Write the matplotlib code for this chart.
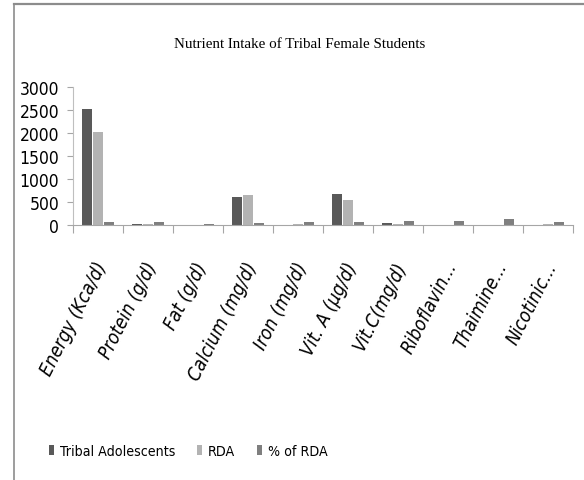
import matplotlib
matplotlib.use("Agg")
import matplotlib.pyplot as plt
import numpy as np
from matplotlib.lines import Line2D

nutrients = ["Energy (Kca/d)", "Protein (g/d)", "Fat (g/d)", "Calcium (mg/d)",
             "Iron (mg/d)", "Vit. A (µg/d)", "Vit.C(mg/d)", "Riboflavin...",
             "Thaimine...", "Nicotinic..."]
tribal = [2527, 12, 8, 600, 9, 685, 35, 0.8, 0.9, 9]
rda = [2035, 14, 10, 650, 12, 540, 20, 1.2, 1.0, 12]
pct_rda = [60, 60, 12, 35, 62, 62, 92, 92, 122, 62]

series_names = ["Tribal Adolescents", "RDA", "% of RDA"]
colors = ["#595959", "#b3b3b3", "#7f7f7f"]

plt.rcParams["font.family"] = ["DejaVu Sans"]
plt.rcParams["font.stretch"] = "condensed"

fig = plt.figure(figsize=(5.84, 4.81), dpi=100)
ax = fig.add_axes([73 / 584, 1 - 226 / 481, 500 / 584, 137.7 / 481])

x = np.arange(len(nutrients))
w = 0.2
bars = []
for k, (vals, c) in enumerate(zip([tribal, rda, pct_rda], colors)):
    bars.append(ax.bar(x + (k - 1) * 0.22, vals, w, color=c, label=series_names[k]))

ax.set_xlim(-0.5, len(nutrients) - 0.5)
ax.set_ylim(0, 3000)
ax.set_yticks(range(0, 3001, 500))
ax.tick_params(axis="y", labelsize=12.5, length=4, width=0.8, color="#a6a6a6", pad=6)

ax.set_xticks(x - 0.08)
ax.set_xticklabels(nutrients, rotation=63, ha="right", va="top",
                   rotation_mode="anchor", fontsize=13.5, style="italic")
ax.tick_params(axis="x", which="major", length=0, pad=24)
ax.set_xticks(np.arange(-0.5, len(nutrients)), minor=True)
ax.tick_params(axis="x", which="minor", length=6, width=0.8, color="#a6a6a6")

for s in ["top", "right"]:
    ax.spines[s].set_visible(False)
ax.spines["left"].set_color("#bfbfbf")
ax.spines["bottom"].set_color("#a6a6a6")

fig.text(300 / 584, 1 - 44 / 481, "Nutrient Intake of Tribal Female Students",
         ha="center", va="center", fontsize=10.8, family="Liberation Serif")

leg = fig.legend(handles=bars, loc="center left", bbox_to_anchor=(36 / 584, 1 - 452 / 481),
                 ncol=3, frameon=False, fontsize=10.2, handlelength=0.4, handleheight=0.8,
                 handletextpad=0.4, columnspacing=1.5)

# frame lines around the chart area
fig.add_artist(Line2D([14 / 584, 1], [1 - 5 / 481, 1 - 5 / 481], transform=fig.transFigure,
                      color="#8c8c8c", lw=1.6))
fig.add_artist(Line2D([14 / 584, 14 / 584], [0, 1 - 5 / 481], transform=fig.transFigure,
                      color="#8c8c8c", lw=1.2))

fig.savefig("out.png", dpi=100)
